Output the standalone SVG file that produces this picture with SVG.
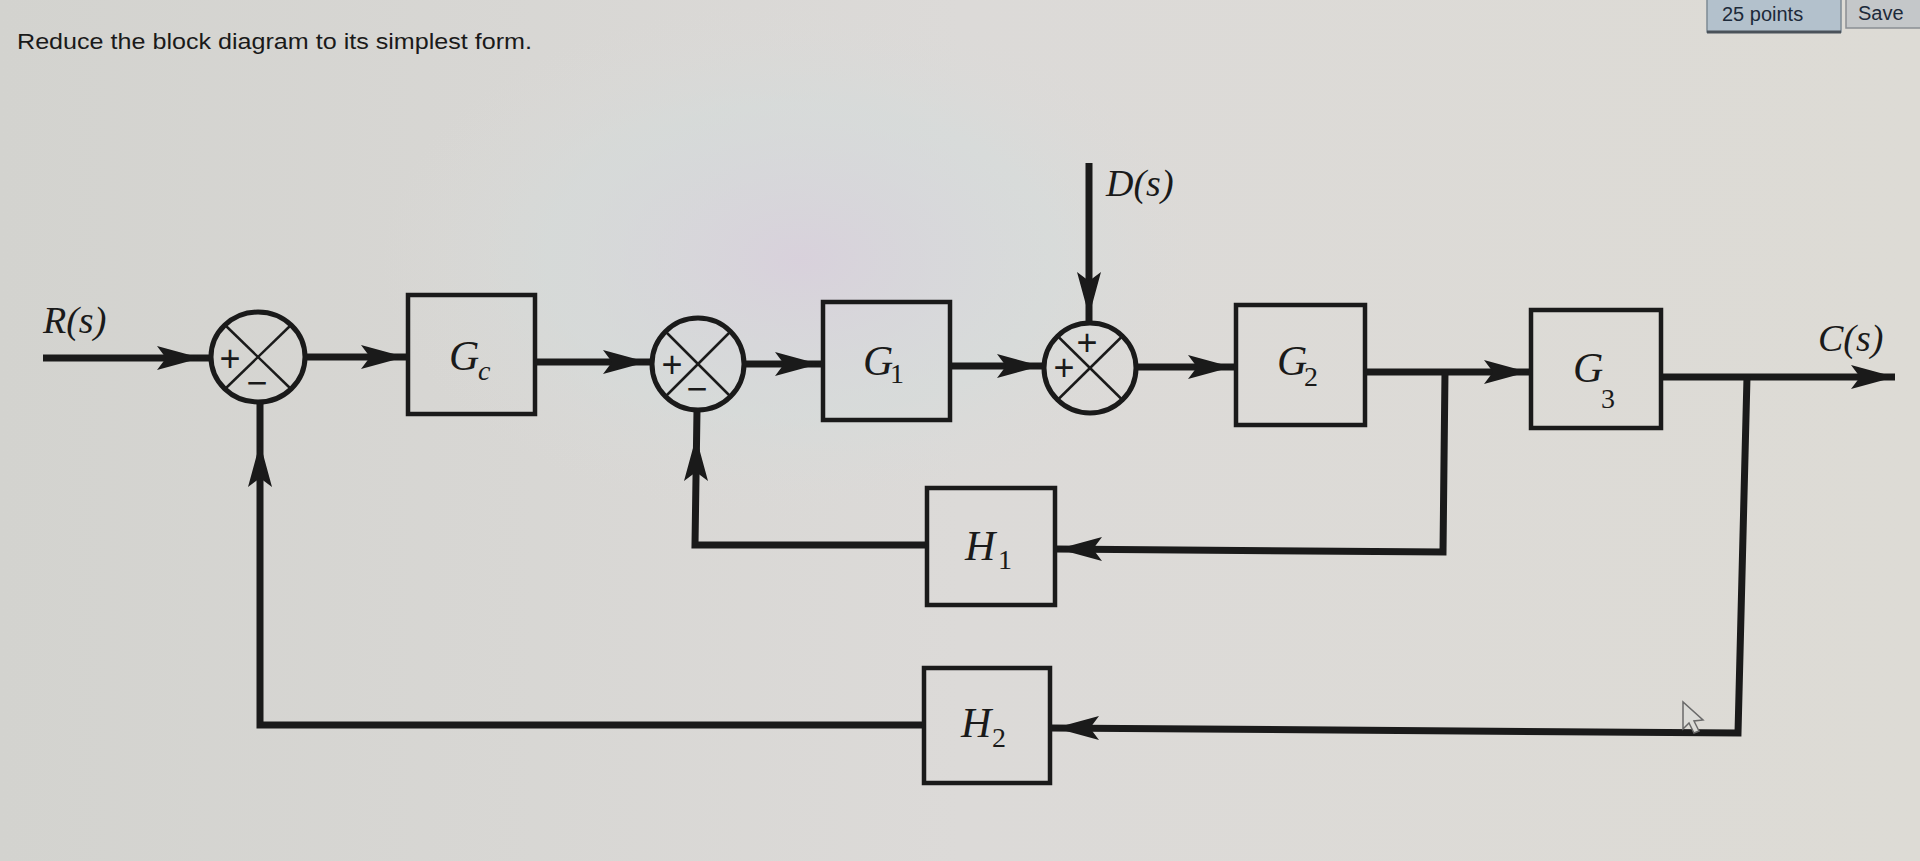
<svg xmlns="http://www.w3.org/2000/svg" xmlns:xlink="http://www.w3.org/1999/xlink" width="1920" height="861" viewBox="0 0 1920 861">
<defs>
<linearGradient id="bg" x1="0" y1="0" x2="1" y2="0">
<stop offset="0" stop-color="#d3d3cf"/>
<stop offset="0.5" stop-color="#dcdad8"/>
<stop offset="1" stop-color="#dddbd5"/>
</linearGradient>
<radialGradient id="moire" cx="0.5" cy="0.5" r="0.5">
<stop offset="0" stop-color="#d8d0dc" stop-opacity="0.9"/>
<stop offset="0.6" stop-color="#d4dcdc" stop-opacity="0.5"/>
<stop offset="1" stop-color="#dcdad8" stop-opacity="0"/>
</radialGradient>
<path id="ah" d="M0,0 L-44,-12 L-35,0 L-44,12 Z"/>
<style>
.ln{fill:none;stroke:#1a1a1a;stroke-width:7;stroke-linejoin:miter}
.box{fill:none;stroke:#1a1a1a;stroke-width:4.5}
.sum{fill:none;stroke:#1a1a1a;stroke-width:5}
.x{stroke:#1a1a1a;stroke-width:2.5}
.ah{fill:#1a1a1a}
.lbl{font-family:"Liberation Serif","DejaVu Serif",serif;font-style:italic;fill:#1a1a1a}
.sub{font-family:"Liberation Serif","DejaVu Serif",serif;fill:#1a1a1a;font-size:28px}
.sign{font-family:"Liberation Sans","DejaVu Sans",sans-serif;fill:#1a1a1a;font-size:36px;text-anchor:middle}
</style>
</defs>
<rect width="1920" height="861" fill="url(#bg)"/>
<ellipse cx="800" cy="260" rx="420" ry="260" fill="url(#moire)"/>

<g id="ui">
<rect x="1707" y="-6" width="134" height="38" fill="#b3c1cc" stroke="#7e8a94" stroke-width="1.5"/>
<line x1="1707" y1="32" x2="1841" y2="32" stroke="#4a525a" stroke-width="3"/>
<text x="1722" y="21" font-family="Liberation Sans, sans-serif" font-size="20" fill="#1d2a3a">25 points</text>
<rect x="1846" y="-6" width="80" height="34" fill="#c4c7c9" stroke="#8a8f93" stroke-width="1.5"/>
<text x="1858" y="20" font-family="Liberation Sans, sans-serif" font-size="20" fill="#1d2a3a">Save</text>
</g>

<text id="title" x="17" y="49" font-family="Liberation Sans, Arial, sans-serif" font-size="22" fill="#1a1a1a" textLength="515" lengthAdjust="spacingAndGlyphs">Reduce the block diagram to its simplest form.</text>

<g id="connectors">
<line class="ln" x1="43" y1="358" x2="212" y2="358"/>
<use href="#ah" class="ah" transform="translate(201,358)"/>
<line class="ln" x1="304" y1="357" x2="408" y2="357"/>
<use href="#ah" class="ah" transform="translate(405,357)"/>
<line class="ln" x1="535" y1="362" x2="652" y2="362"/>
<use href="#ah" class="ah" transform="translate(647,362)"/>
<line class="ln" x1="743" y1="364" x2="823" y2="364"/>
<use href="#ah" class="ah" transform="translate(819,364)"/>
<line class="ln" x1="950" y1="366" x2="1045" y2="366"/>
<use href="#ah" class="ah" transform="translate(1041,366)"/>
<line class="ln" x1="1135" y1="367" x2="1236" y2="367"/>
<use href="#ah" class="ah" transform="translate(1232,367)"/>
<line class="ln" x1="1365" y1="372" x2="1531" y2="372"/>
<use href="#ah" class="ah" transform="translate(1528,372)"/>
<line class="ln" x1="1661" y1="377" x2="1895" y2="377"/>
<use href="#ah" class="ah" transform="translate(1895,377)"/>
<line class="ln" x1="1089" y1="163" x2="1089" y2="323"/>
<use href="#ah" class="ah" transform="translate(1089,316) rotate(90)"/>
<path class="ln" d="M1445,372 L1443,552 L1055,549"/>
<use href="#ah" class="ah" transform="translate(1058,549) rotate(180)"/>
<path class="ln" d="M927,545 L695,545 L697,410"/>
<use href="#ah" class="ah" transform="translate(696,437) rotate(-90)"/>
<path class="ln" d="M1747,377 L1738,733 L1050,728"/>
<use href="#ah" class="ah" transform="translate(1055,728) rotate(180)"/>
<path class="ln" d="M924,725 L260,725 L260,403"/>
<use href="#ah" class="ah" transform="translate(260,443) rotate(-90)"/>
</g>

<g id="sum1">
<ellipse class="sum" cx="258" cy="357" rx="47" ry="45"/>
<line class="x" x1="225" y1="325" x2="291" y2="389"/>
<line class="x" x1="291" y1="325" x2="225" y2="389"/>
<text class="sign" x="230" y="371">+</text>
<text class="sign" x="257" y="395">−</text>
</g>
<g id="sum2">
<ellipse class="sum" cx="698" cy="364" rx="46" ry="46"/>
<line class="x" x1="665.5" y1="331.5" x2="730.5" y2="396.5"/>
<line class="x" x1="730.5" y1="331.5" x2="665.5" y2="396.5"/>
<text class="sign" x="672" y="377">+</text>
<text class="sign" x="697" y="401">−</text>
</g>
<g id="sum3">
<ellipse class="sum" cx="1090" cy="368" rx="46" ry="45"/>
<line class="x" x1="1057.5" y1="336" x2="1122.5" y2="400"/>
<line class="x" x1="1122.5" y1="336" x2="1057.5" y2="400"/>
<text class="sign" x="1087" y="355">+</text>
<text class="sign" x="1064" y="380">+</text>
</g>

<g id="Gc">
<rect class="box" x="408" y="295" width="127" height="119"/>
<text class="lbl" x="449" y="370" font-size="42">G</text>
<text class="sub" x="478" y="380" font-style="italic" font-size="30">c</text>
</g>
<g id="G1">
<rect class="box" x="823" y="302" width="127" height="118"/>
<text class="lbl" x="863" y="375" font-size="42">G</text>
<text class="sub" x="890" y="383">1</text>
</g>
<g id="G2">
<rect class="box" x="1236" y="305" width="129" height="120"/>
<text class="lbl" x="1277" y="375" font-size="42">G</text>
<text class="sub" x="1304" y="386">2</text>
</g>
<g id="G3">
<rect class="box" x="1531" y="310" width="130" height="118"/>
<text class="lbl" x="1573" y="382" font-size="42">G</text>
<text class="sub" x="1601" y="408">3</text>
</g>
<g id="H1">
<rect class="box" x="927" y="488" width="128" height="117"/>
<text class="lbl" x="965" y="560" font-size="42">H</text>
<text class="sub" x="998" y="569">1</text>
</g>
<g id="H2">
<rect class="box" x="924" y="668" width="126" height="115"/>
<text class="lbl" x="961" y="737" font-size="42">H</text>
<text class="sub" x="992" y="747">2</text>
</g>

<g id="signals">
<text class="lbl" x="43" y="333" font-size="38">R(s)</text>
<text class="lbl" x="1818" y="351" font-size="38">C(s)</text>
<text class="lbl" x="1106" y="196" font-size="38">D(s)</text>
</g>

<polygon id="cursor" points="1683,702 1683,729 1689,723 1694,733 1699,731 1694,721 1703,720" fill="#dcdcd8" stroke="#6a6a6a" stroke-width="1.5"/>
</svg>
